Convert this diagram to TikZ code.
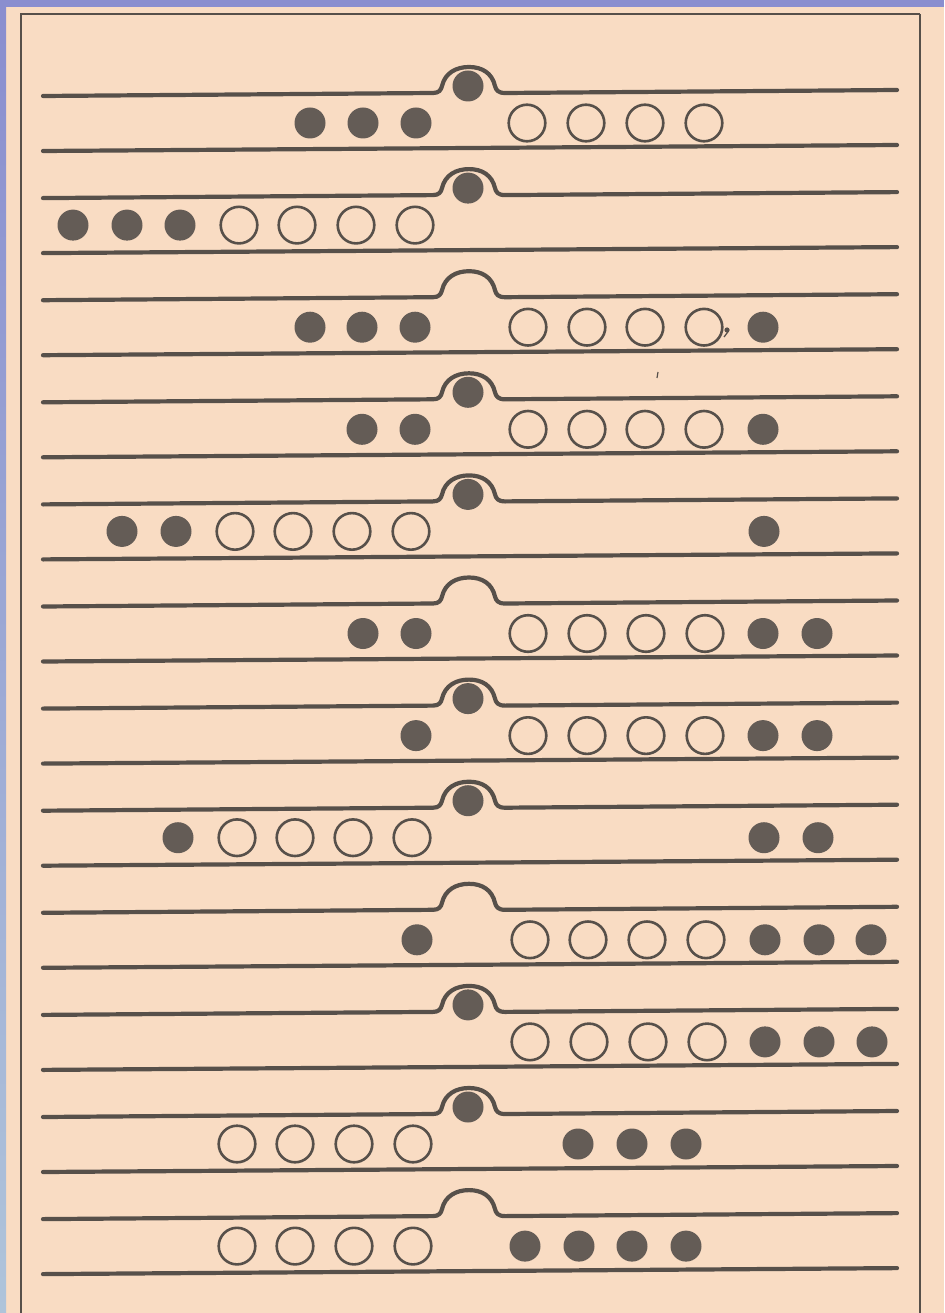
\documentclass[tikz,border=0pt]{standalone}
\definecolor{paper}{HTML}{F9DCC3}
\definecolor{ink}{HTML}{57504A}
\definecolor{coin}{HTML}{645C56}
\definecolor{frameblue}{HTML}{8A8ECF}
\definecolor{lowblue}{HTML}{AFC4DA}
\newcommand{\puzrow}[4]{%
  \pgfmathsetmacro{\yy}{93+102.1*(#1-1)}%
  \pgfmathsetmacro{\cy}{\yy+30}%
  \draw[rail] (43,\yy+3) -- (433,\yy) .. controls (439,\yy) and (441,\yy-3) .. (442,\yy-7)
     .. controls (445,\yy-20) and (456,\yy-26) .. (469,\yy-26)
     .. controls (482,\yy-26) and (492,\yy-20) .. (495,\yy-7)
     .. controls (496,\yy-3) and (498,\yy) .. (505,\yy) -- (897,\yy-3);
  \draw[rail] (43,\yy+58) -- (897,\yy+52);
  \ifnum#2=1 \fill[full] (468,\yy-7) circle (15.5);\fi
  \foreach \x in {#3} {\fill[full] (\x,\cy) circle (15.5);}
  \foreach \x in {#4} {\draw[hollow] (\x,\cy) circle (18.3);}
}
\begin{document}
\begin{tikzpicture}[x=1pt,y=-1pt,
  rail/.style={draw=ink,line width=4.2pt,line cap=round,line join=round},
  full/.style={fill=coin},
  hollow/.style={draw=ink,line width=2.6pt},
  framel/.style={draw=ink,line width=2pt}]
\fill[paper] (0,0) rectangle (944,1313);
\useasboundingbox (0,0) rectangle (944,1313);
% blue scan border
\fill[frameblue] (0,0) rectangle (944,7);
\shade[top color=frameblue,bottom color=lowblue] (0,7) rectangle (6,1313);
% page frame
\draw[framel] (20,14) -- (920,14);
\draw[draw=ink,line width=1.3pt] (21,14) -- (21,1313);
\draw[framel] (920,14) -- (920,1313);
% rows
\puzrow{1}{1}{310,363,416}{527,586,645,704}
\puzrow{2}{1}{73,127,180}{239,297,356,415}
\puzrow{3}{0}{310,362,415,763}{528,587,645,704}
\puzrow{4}{1}{362,415,763}{528,587,645,704}
\puzrow{5}{1}{122,176,764}{235,293,352,411}
\puzrow{6}{0}{363,416,763,817}{528,587,646,705}
\puzrow{7}{1}{416,763,817}{528,587,646,705}
\puzrow{8}{1}{178,764,818}{237,295,353,412}
\puzrow{9}{0}{417,765,819,871}{530,588,647,706}
\puzrow{10}{1}{765,819,872}{530,589,648,707}
\puzrow{11}{1}{578,632,686}{237,295,354,413}
\puzrow{12}{0}{525,579,632,686}{237,295,354,413}
% small stray marks of the print
\fill[ink] (727,330) circle (2.6);
\draw[ink,line width=1.3pt] (728.5,331) -- (724,337);
\draw[ink,line width=1.2pt] (658,372) -- (657,378);
\end{tikzpicture}
\end{document}
